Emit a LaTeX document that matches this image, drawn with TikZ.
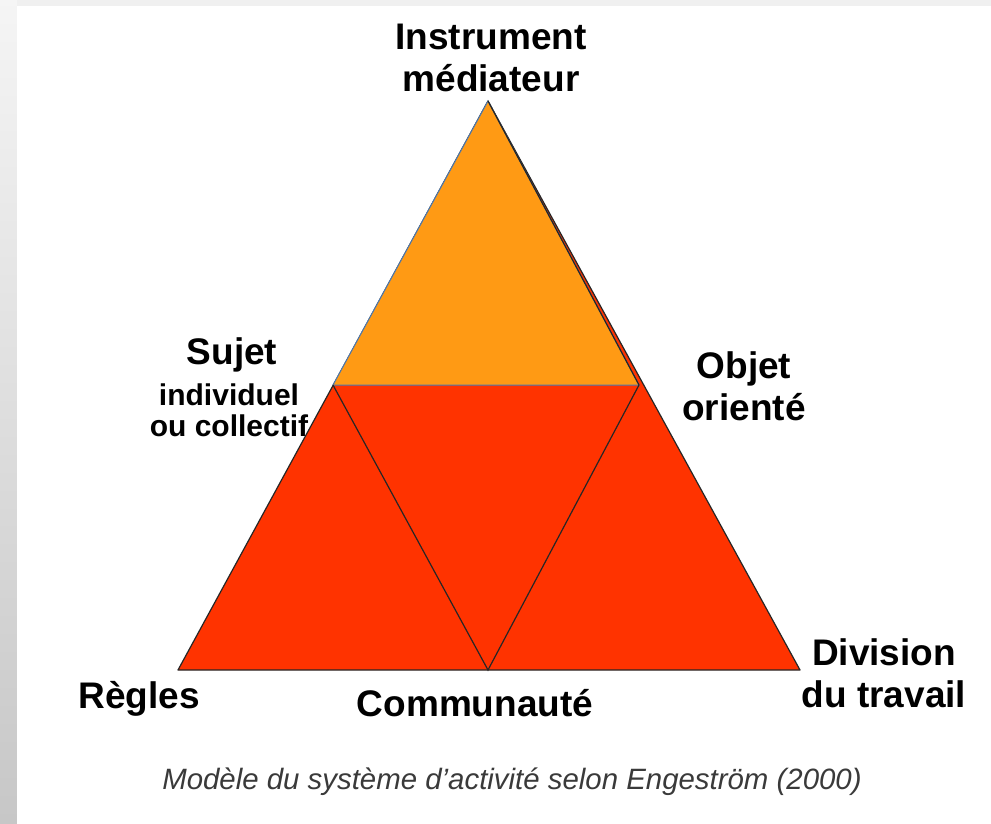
\documentclass[tikz,border=0pt]{standalone}
\usepackage{fontspec}
\setmainfont{Liberation Sans}
\usetikzlibrary{positioning}

\definecolor{topfill}{HTML}{FF9A14}
\definecolor{lowfill}{HTML}{FF3300}
\definecolor{topline}{HTML}{4A78B0}
\definecolor{capgray}{HTML}{3A3A3A}

\begin{document}
\begin{tikzpicture}[x=1pt, y=-1pt,
       lbl/.style = {font=\bfseries\fontsize{37}{42}\selectfont,
                     align=center, inner sep=0pt},
       sub/.style = {font=\bfseries\fontsize{30}{31}\selectfont,
                     align=center, inner sep=0pt},
  trifill/.style = {fill=#1, draw=black!85, line width=1.2pt,
                    line join=round}
                        ]
% page and grey frame
\useasboundingbox (0,0) rectangle (991,824);
\shade[top color=black!4, bottom color=black!22] (0,0) rectangle (991,824);
\fill[black!6] (17,0) rectangle (991,6);
\fill[white] (17,6) rectangle (991,824);

% labels (under the triangle)
\node[lbl] (instr) at (491,58) {Instrument\\médiateur};
\node[lbl] (sujet) at (232,355) {Sujet};
\node[sub] (sujetsub) at (229,410) {individuel\\ou collectif};
\node[lbl] (objet) at (744,386) {Objet\\orienté};
\node[lbl] (division) at (884,673) {Division\\du travail};
\node[lbl] (regles) at (139,699) {Règles};
\node[lbl] (commu) at (475,703) {Communauté};

% corners
\coordinate (apex) at (488,101);
\coordinate (bl) at (178,670);
\coordinate (br) at (800,670);
\coordinate (ml) at (333,385);
\coordinate (mr) at (639,385);
\coordinate (mb) at (488,670);

\filldraw[trifill=lowfill] (apex) -- (bl) -- (br) -- cycle;
\filldraw[fill=topfill, draw=topline, line width=1pt] (apex) -- (ml) -- (mr) -- cycle;
\draw[black!85, line width=1.2pt] (apex) -- (mr);
\draw[black!85, line width=1.2pt] (ml) -- (mb) -- (mr);

\node[font=\itshape\fontsize{29.4}{30}\selectfont, text=capgray,
      inner sep=0pt] (caption) at (512,782)
      {Modèle du système d'activité selon Engeström (2000)};
\end{tikzpicture}
\end{document}
